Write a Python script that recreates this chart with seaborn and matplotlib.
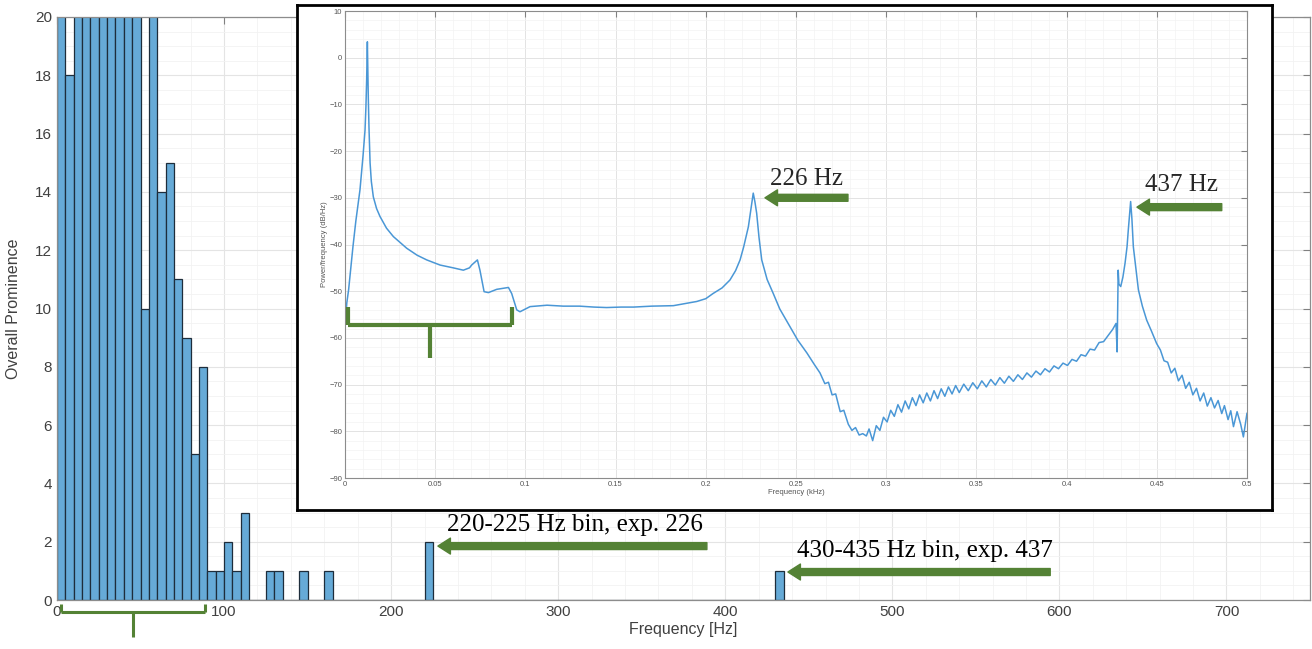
import numpy as np
import pandas as pd
import matplotlib
matplotlib.use("Agg")
import matplotlib.pyplot as plt
import seaborn as sns
from matplotlib.ticker import MultipleLocator
from matplotlib.lines import Line2D

# ---------------- data ----------------
bin_width_hz = 5
bin_left_hz = [0, 5, 10, 15, 20, 25, 30, 35, 40, 45, 50, 55, 60, 65, 70, 75, 80, 85,
               90, 95, 100, 105, 110, 125, 130, 145, 160, 220, 430]
prominence = [24, 18, 24, 24, 24, 24, 24, 24, 24, 24, 10, 24, 14, 15, 11, 9, 5, 8,
              1, 1, 2, 1, 3, 1, 1, 1, 1, 2, 1]

# PSD curve of the inset (frequency in kHz, level in dB/Hz)
psd_freq_khz = [
    0.0000, 0.0010, 0.0020, 0.0044, 0.0060, 0.0083, 0.0100, 0.0111, 0.0116, 0.0120,
    0.0124, 0.0127, 0.0129, 0.0133, 0.0139, 0.0146, 0.0157, 0.0175, 0.0194, 0.0230,
    0.0268, 0.0342, 0.0400, 0.0453, 0.0527, 0.0600, 0.0656, 0.0690, 0.0702, 0.0734,
    0.0748, 0.0771, 0.0795, 0.0841, 0.0906, 0.0924, 0.0952, 0.0970, 0.1026, 0.1120,
    0.1210, 0.1300, 0.1380, 0.1450, 0.1530, 0.1600, 0.1700, 0.1820, 0.1950, 0.2000,
    0.2040, 0.2090, 0.2134, 0.2165, 0.2190, 0.2210, 0.2236, 0.2250, 0.2263, 0.2272,
    0.2282, 0.2295, 0.2310, 0.2340, 0.2374, 0.2410, 0.2467, 0.2510, 0.2560, 0.2600,
    0.2633, 0.2660, 0.2680, 0.2700, 0.2720, 0.2745, 0.2765, 0.2790, 0.2810, 0.2830,
    0.2850, 0.2870, 0.2890, 0.2905, 0.2925, 0.2945, 0.2965, 0.2985, 0.3005, 0.3025,
    0.3045, 0.3065, 0.3085, 0.3105, 0.3125, 0.3145, 0.3165, 0.3185, 0.3205, 0.3225,
    0.3245, 0.3265, 0.3285, 0.3305, 0.3325, 0.3345, 0.3365, 0.3385, 0.3405, 0.3430,
    0.3455, 0.3480, 0.3505, 0.3530, 0.3555, 0.3580, 0.3605, 0.3630, 0.3655, 0.3680,
    0.3705, 0.3730, 0.3755, 0.3780, 0.3805, 0.3830, 0.3855, 0.3880, 0.3905, 0.3930,
    0.3955, 0.3980, 0.4005, 0.4030, 0.4055, 0.4080, 0.4105, 0.4130, 0.4155, 0.4180,
    0.4205, 0.4230, 0.4255, 0.4274, 0.4280, 0.4286, 0.4290, 0.4300, 0.4312, 0.4324,
    0.4335, 0.4342, 0.4355, 0.4362, 0.4370, 0.4385, 0.4398, 0.4420, 0.4444, 0.4470,
    0.4499, 0.4520, 0.4540, 0.4560, 0.4580, 0.4600, 0.4620, 0.4640, 0.4660, 0.4680,
    0.4700, 0.4720, 0.4740, 0.4760, 0.4780, 0.4800, 0.4820, 0.4840, 0.4860, 0.4875,
    0.4895, 0.4910, 0.4925, 0.4945, 0.4965, 0.4980, 0.5000]
psd_db = [
    -57.7, -52.5, -49.7, -40.5, -35.0, -28.3, -21.0, -15.5, -10.5, -4.8,
    3.4, -4.0, -8.3, -15.0, -22.5, -26.5, -29.8, -32.3, -34.0, -36.5,
    -38.3, -40.8, -42.3, -43.3, -44.4, -45.0, -45.5, -45.0, -44.4, -43.3,
    -45.5, -50.1, -50.3, -49.6, -49.2, -50.5, -54.0, -54.4, -53.3, -53.0,
    -53.2, -53.2, -53.4, -53.5, -53.4, -53.4, -53.2, -53.1, -52.2, -51.6,
    -50.5, -49.3, -47.6, -45.6, -43.3, -40.5, -36.2, -32.5, -29.0, -30.8,
    -33.3, -38.5, -43.3, -47.5, -50.5, -53.8, -57.6, -60.5, -63.2, -65.6,
    -67.5, -69.8, -69.5, -72.2, -72.0, -75.8, -75.5, -78.5, -79.8, -79.2,
    -80.8, -80.5, -81.0, -79.5, -82.0, -78.8, -79.8, -77.0, -78.0, -75.5,
    -76.8, -74.3, -75.9, -73.5, -75.2, -72.8, -74.5, -72.2, -73.9, -71.8,
    -73.5, -71.3, -73.0, -70.9, -72.5, -70.5, -72.0, -70.2, -71.7, -69.9,
    -71.3, -69.6, -70.9, -69.2, -70.5, -68.9, -70.1, -68.5, -69.7, -68.2,
    -69.3, -67.9, -68.9, -67.5, -68.4, -67.1, -67.9, -66.6, -67.3, -66.0,
    -66.6, -65.4, -65.9, -64.6, -65.0, -63.6, -63.9, -62.4, -62.6, -61.0,
    -60.8, -59.5, -58.2, -56.9, -63.0, -45.5, -48.5, -49.0, -47.0, -44.0,
    -40.5, -36.9, -30.8, -34.5, -40.5, -45.5, -49.7, -53.2, -56.2, -58.5,
    -61.2, -62.6, -64.9, -65.2, -67.5, -66.5, -69.2, -68.0, -70.8, -69.5,
    -72.2, -70.8, -73.5, -71.8, -74.6, -72.8, -75.0, -73.4, -76.2, -74.5,
    -77.5, -75.6, -79.0, -75.8, -78.5, -81.2, -76.1]

main_xticks = [0, 100, 200, 300, 400, 500, 600, 700]
main_yticks = [0, 2, 4, 6, 8, 10, 12, 14, 16, 18, 20]
inset_xticks = [0, 0.05, 0.1, 0.15, 0.2, 0.25, 0.3, 0.35, 0.4, 0.45, 0.5]
inset_xticklabels = ["0", "0.05", "0.1", "0.15", "0.2", "0.25", "0.3", "0.35", "0.4", "0.45", "0.5"]
inset_yticks = [-90, -80, -70, -60, -50, -40, -30, -20, -10, 0, 10]

# ---------------- style ----------------
sns.set_style("white")
plt.rcParams["font.family"] = ["Liberation Sans", "DejaVu Sans"]

W, H = 1312, 649
fig = plt.figure(figsize=(W / 100, H / 100), dpi=100)
fig.patch.set_facecolor("white")

def fx(px):
    return px / W

def fy(py):
    return 1 - py / H

GREEN = "#548235"
BAR = "#66aad7"
EDGE = "#1e2d3b"
TICKC = "#404040"
ARROW = "simple,head_length=0.9,head_width=1.15,tail_width=0.5"

# ---------------- main histogram ----------------
ax = fig.add_axes([fx(57), fy(600), fx(1310) - fx(57), fy(17) - fy(600)])
df = pd.DataFrame({"freq": [b + bin_width_hz / 2 for b in bin_left_hz], "count": prominence})
sns.histplot(data=df, x="freq", weights="count", binwidth=bin_width_hz, binrange=(0, 435),
             color=BAR, edgecolor=EDGE, linewidth=0.9, alpha=1.0, ax=ax, zorder=2)
ax.set_xlim(0, 750)
ax.set_ylim(0, 20)
ax.set_xticks(main_xticks)
ax.set_yticks(main_yticks)
ax.xaxis.set_minor_locator(MultipleLocator(20))
ax.yaxis.set_minor_locator(MultipleLocator(0.5))
ax.grid(which="major", color="#e4e4e4", linewidth=0.8, zorder=0)
ax.grid(which="minor", color="#f2f2f2", linewidth=0.6, zorder=0)
ax.set_axisbelow(True)
ax.tick_params(which="major", direction="in", length=5, color="#808080",
               labelsize=11, labelcolor=TICKC, top=True, right=True)
ax.tick_params(which="minor", length=0)
for s in ax.spines.values():
    s.set_color("#8c8c8c")
    s.set_linewidth(0.9)
ax.set_xlabel("Frequency [Hz]", fontsize=11.5, color=TICKC, labelpad=2)
ax.set_ylabel("Overall Prominence", fontsize=11.5, color=TICKC, labelpad=10)

# main annotations
serif = ["Liberation Serif", "DejaVu Serif"]
ax.annotate("", xy=(228, 1.85), xytext=(389, 1.85),
            arrowprops=dict(arrowstyle=ARROW, mutation_scale=10, color=GREEN,
                            shrinkA=0, shrinkB=0), zorder=5)
ax.text(233.5, 2.57, "220-225 Hz bin, exp. 226", family=serif, fontsize=18,
        va="center", ha="left", color="black", zorder=5)
ax.annotate("", xy=(437.5, 0.96), xytext=(594.5, 0.96),
            arrowprops=dict(arrowstyle=ARROW, mutation_scale=10, color=GREEN,
                            shrinkA=0, shrinkB=0), zorder=5)
ax.text(443, 1.68, "430-435 Hz bin, exp. 437", family=serif, fontsize=18,
        va="center", ha="left", color="black", zorder=5)

# bracket under main axis
for (x0, y0, x1, y1) in [(61, 604, 61, 612), (61, 612, 205, 612), (205, 612, 205, 604),
                         (133, 612, 133, 637)]:
    fig.add_artist(Line2D([fx(x0), fx(x1)], [fy(y0), fy(y1)], color=GREEN, lw=2.2,
                          solid_capstyle="butt"))

# ---------------- inset frame ----------------
frame = fig.add_axes([fx(297), fy(510), fx(1272) - fx(297), fy(5) - fy(510)])
frame.set_facecolor("white")
frame.set_xticks([])
frame.set_yticks([])
for s in frame.spines.values():
    s.set_color("black")
    s.set_linewidth(2)
frame.set_zorder(3)

ins = fig.add_axes([fx(345), fy(478), fx(1247) - fx(345), fy(11) - fy(478)])
ins.set_zorder(4)
ins.set_facecolor("white")
psd = pd.DataFrame({"f": psd_freq_khz, "db": psd_db})
sns.lineplot(data=psd, x="f", y="db", ax=ins, color="#4a97d6", linewidth=1.1,
             estimator=None, sort=False)
ins.set_xlim(0, 0.5)
ins.set_ylim(-90, 10)
ins.set_xticks(inset_xticks)
ins.set_xticklabels(inset_xticklabels)
ins.set_yticks(inset_yticks)
ins.xaxis.set_minor_locator(MultipleLocator(0.01))
ins.yaxis.set_minor_locator(MultipleLocator(2))
ins.grid(which="major", color="#e3e3e3", linewidth=0.7)
ins.grid(which="minor", color="#f3f3f3", linewidth=0.5)
ins.set_axisbelow(True)
ins.tick_params(which="major", direction="in", length=4, color="#808080",
                labelsize=5.5, labelcolor="#555555", top=True, right=True, pad=2)
ins.tick_params(which="minor", length=0)
for s in ins.spines.values():
    s.set_color("#8c8c8c")
    s.set_linewidth(0.8)
ins.set_xlabel("Frequency (kHz)", fontsize=5.5, color="#555555", labelpad=1)
ins.set_ylabel("Power/frequency (dB/Hz)", fontsize=5.5, color="#555555", labelpad=1)

ins.annotate("", xy=(0.2328, -30.0), xytext=(0.2788, -30.0),
             arrowprops=dict(arrowstyle=ARROW, mutation_scale=10, color=GREEN,
                             shrinkA=0, shrinkB=0))
ins.text(0.2356, -26.0, "226 Hz", family=serif, fontsize=18, va="center", ha="left")
ins.annotate("", xy=(0.4390, -32.0), xytext=(0.4860, -32.0),
             arrowprops=dict(arrowstyle=ARROW, mutation_scale=10, color=GREEN,
                             shrinkA=0, shrinkB=0))
ins.text(0.4435, -27.2, "437 Hz", family=serif, fontsize=18, va="center", ha="left")

# bracket in inset
for (x0, y0, x1, y1) in [(348, 307, 348, 325), (348, 325, 512, 325), (512, 325, 512, 307),
                         (430, 325, 430, 358)]:
    fig.add_artist(Line2D([fx(x0), fx(x1)], [fy(y0), fy(y1)], color=GREEN, lw=3,
                          solid_capstyle="butt", zorder=10))

fig.savefig("out.png", dpi=100, facecolor="white")
